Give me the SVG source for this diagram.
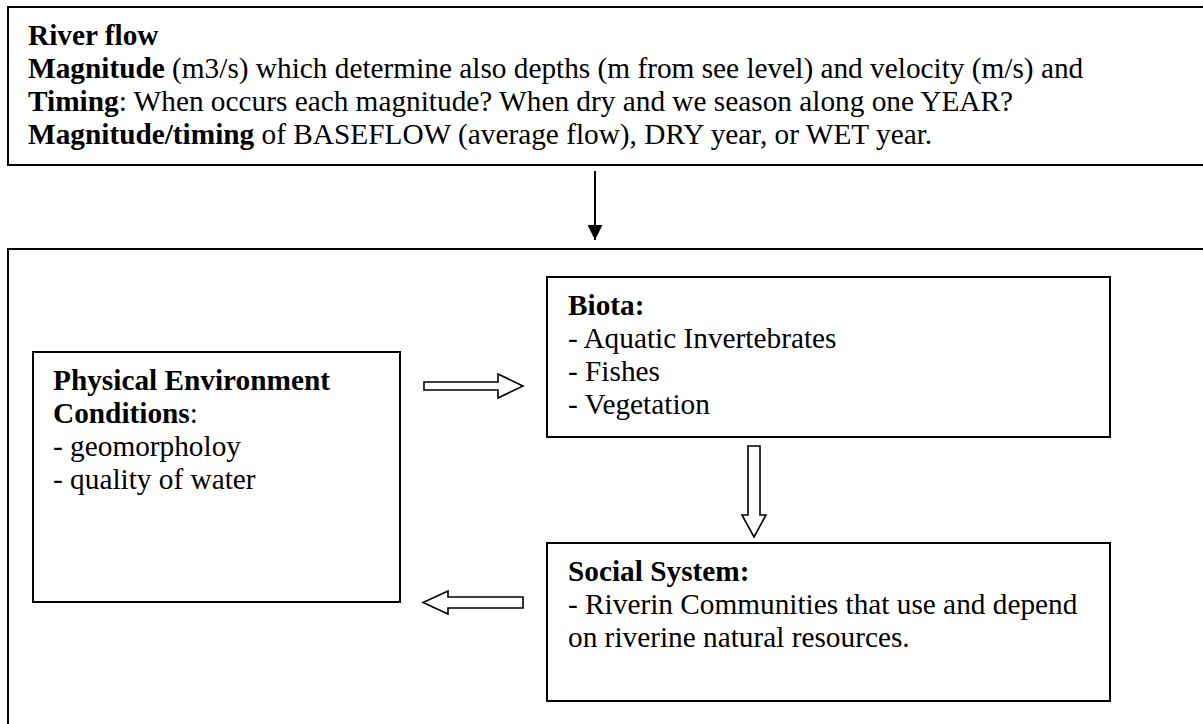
<svg xmlns="http://www.w3.org/2000/svg" width="1203" height="724" viewBox="0 0 1203 724">
  <style>
    .box { fill: #ffffff; stroke: #000000; stroke-width: 2; }
    .hollow { fill: #ffffff; stroke: #000000; stroke-width: 1.6; stroke-linejoin: miter; }
    text { font-family: "Liberation Serif", "Times New Roman", serif; font-size: 29.3px; fill: #000000; }
    .b { font-weight: bold; }
  </style>
  <defs>
    <marker id="head" viewBox="0 0 15 15" refX="15" refY="7.5" markerWidth="15" markerHeight="15" markerUnits="userSpaceOnUse" orient="auto">
      <path d="M0,0 L15,7.5 L0,15 Z" fill="#000000"/>
    </marker>
  </defs>
  <rect width="1203" height="724" fill="#ffffff"/>

  <!-- River flow header -->
  <g id="river-flow">
    <rect class="box" x="8" y="7" width="1210" height="158"/>
    <text x="28" y="45" class="b">River flow</text>
    <text x="28" y="78"><tspan class="b">Magnitude</tspan> (m3/s) which determine also depths (m from see level) and velocity (m/s) and</text>
    <text x="28" y="111"><tspan class="b">Timing</tspan>: When occurs each magnitude? When dry and we season along one YEAR?</text>
    <text x="28" y="144"><tspan class="b">Magnitude/timing</tspan> of BASEFLOW (average flow), DRY year, or WET year.</text>
  </g>

  <!-- Ecosystem frame -->
  <g id="ecosystem">
    <rect class="box" x="8" y="249" width="1210" height="500"/>
  </g>

  <g id="physical">
    <rect class="box" x="33" y="352" width="367" height="250"/>
    <text x="53" y="390" class="b">Physical Environment</text>
    <text x="53" y="423"><tspan class="b">Conditions</tspan>:</text>
    <text x="53" y="456">- geomorpholoy</text>
    <text x="53" y="489">- quality of water</text>
  </g>

  <g id="biota">
    <rect class="box" x="547" y="277" width="563" height="160"/>
    <text x="568" y="315" class="b">Biota:</text>
    <text x="568" y="348">- Aquatic Invertebrates</text>
    <text x="568" y="381">- Fishes</text>
    <text x="568" y="414">- Vegetation</text>
  </g>

  <g id="social">
    <rect class="box" x="547" y="543" width="563" height="158"/>
    <text x="568" y="581" class="b">Social System:</text>
    <text x="568" y="614">- Riverin Communities that use and depend</text>
    <text x="568" y="647">on riverine natural resources.</text>
  </g>

  <!-- Connectors -->
  <g id="connectors">
    <line x1="595" y1="171" x2="595" y2="240" stroke="#000000" stroke-width="2" marker-end="url(#head)"/>
    <path class="hollow" d="M424,382 L498,382 L498,374 L523,386 L498,398 L498,390 L424,390 Z"/>
    <path class="hollow" d="M748,446 L760,446 L760,515 L766,515 L754,537 L742,515 L748,515 Z"/>
    <path class="hollow" d="M523,597 L448,597 L448,591 L423,602.5 L448,614 L448,608 L523,608 Z"/>
  </g>
</svg>
